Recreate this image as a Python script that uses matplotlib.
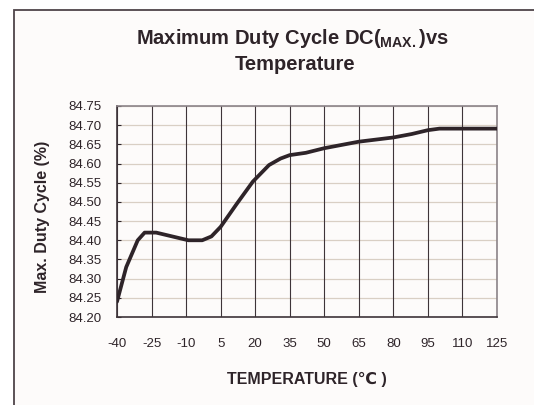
import numpy as np
import matplotlib
matplotlib.use("Agg")
import matplotlib.pyplot as plt
from matplotlib.patches import Rectangle

plt.rcParams["font.family"] = ["Liberation Sans", "DejaVu Sans"]
plt.rcParams["mathtext.fontset"] = "custom"
plt.rcParams["mathtext.rm"] = "Liberation Sans"
plt.rcParams["mathtext.bf"] = "Liberation Sans:bold"

# data
temps = [-40, -36, -31, -28, -23, -16, -9, -3, 1, 5, 12, 19, 26, 31, 35,
         42, 50, 65, 80, 88, 95, 100, 110, 125]
duty = [84.24, 84.33, 84.40, 84.42, 84.42, 84.41, 84.40, 84.40, 84.41,
        84.435, 84.495, 84.553, 84.596, 84.613, 84.622, 84.628, 84.64,
        84.657, 84.668, 84.677, 84.687, 84.691, 84.691, 84.691]

x_ticks = [-40, -25, -10, 5, 20, 35, 50, 65, 80, 95, 110, 125]
y_ticks = [84.20, 84.25, 84.30, 84.35, 84.40, 84.45, 84.50, 84.55,
           84.60, 84.65, 84.70, 84.75]

BG = "#fdfbfa"
INK = "#2e2429"

fig = plt.figure(figsize=(5.34, 4.05), dpi=100, facecolor="white")

# outer frame of the chart area
frame = Rectangle((14 / 534, -0.01), 1.0, 1.01 - 10 / 405,
                  transform=fig.transFigure, facecolor=BG,
                  edgecolor="#4e4449", linewidth=1.3, zorder=-5)
fig.patches.append(frame)

ax = fig.add_axes([117 / 534, 1 - 317 / 405, 380 / 534, 211 / 405])
ax.set_zorder(2)
ax.set_facecolor(BG)

for t in x_ticks:
    ax.axvline(t, color="#3e3439", linewidth=0.8, zorder=1)
for v in y_ticks:
    ax.axhline(v, color="#d9cfc4", linewidth=0.9, zorder=0.5)

ax.plot(temps, duty, color=INK, linewidth=2.7, solid_joinstyle="round",
        solid_capstyle="round", zorder=3)

ax.set_xlim(-40, 125)
ax.set_ylim(84.20, 84.75)
ax.set_xticks(x_ticks)
ax.set_xticklabels([str(t) for t in x_ticks])
ax.set_yticks(y_ticks)
ax.set_yticklabels([f"{v:.2f}" for v in y_ticks])
ax.tick_params(axis="x", length=0, pad=15, labelsize=9.5, colors=INK)
ax.tick_params(axis="y", direction="in", length=3, width=0.8, pad=11,
               labelsize=9.5, colors=INK)

for side in ["left", "bottom"]:
    ax.spines[side].set_color("#3e3439")
    ax.spines[side].set_linewidth(1.2)
for side in ["top", "right"]:
    ax.spines[side].set_color("#8c8489")
    ax.spines[side].set_linewidth(1.2)

fig.text(43 / 534, 1 - 217 / 405, "Max. Duty Cycle (%)", fontsize=11.5,
         fontweight="bold", color=INK, ha="center", va="center",
         rotation=90)
fig.text(307 / 534, 1 - 379 / 405, "TEMPERATURE (℃ )", fontsize=11.5,
         fontweight="bold", color=INK, ha="center", va="center")

fig.text(292 / 534, 1 - 38 / 405, r"Maximum Duty Cycle DC($_{\mathbf{MAX.}}$)vs",
         fontsize=14.5, fontweight="bold", color=INK, ha="center", va="center")
fig.text(295 / 534, 1 - 65 / 405, "Temperature", fontsize=14.5,
         fontweight="bold", color=INK, ha="center", va="center")

fig.savefig("out.png", dpi=100, facecolor="white")
